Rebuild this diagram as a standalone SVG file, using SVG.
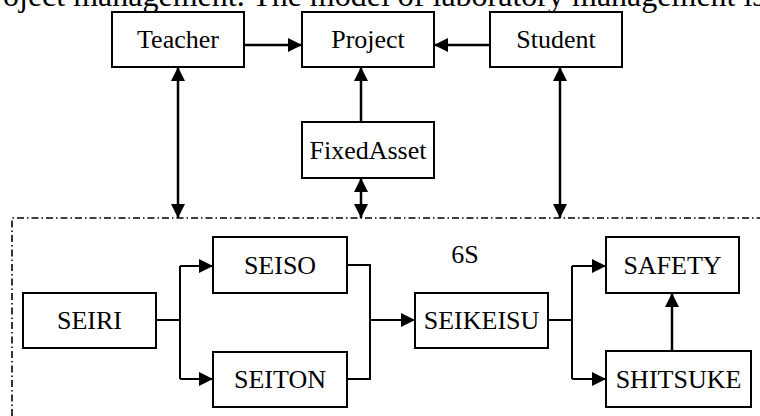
<svg xmlns="http://www.w3.org/2000/svg" width="760" height="416" viewBox="0 0 760 416">
<style>
.box{fill:#fff;stroke:#000;stroke-width:2}
.lbl{font-family:"Liberation Serif","Times New Roman",serif;font-size:26px;fill:#000;text-anchor:middle}
.big{stroke:#000;stroke-width:2.5;fill:none}
.thin{stroke:#000;stroke-width:2;fill:none}
.frame{stroke:#000;stroke-width:1.6;fill:none;stroke-dasharray:7 3 1.5 3}
</style>
<defs>
<marker id="ah" viewBox="0 0 14 14" refX="14" refY="7" markerWidth="14" markerHeight="14" markerUnits="userSpaceOnUse" orient="auto-start-reverse">
<path d="M0,0 L14,7 L0,14 z" fill="#000"/>
</marker>
</defs>
<rect width="760" height="416" fill="#fff"/>
<text x="3" y="6" style="font-family:'Liberation Serif','Times New Roman',serif;font-size:32px;fill:#000">oject management. The model of laboratory management is</text>
<path class="frame" d="M12,416 V218 H760"/>
<g id="connectors">
<path class="big" d="M244,45 H302" marker-end="url(#ah)"/>
<path class="big" d="M490,45 H434" marker-end="url(#ah)"/>
<path class="big" d="M361,122 V67" marker-end="url(#ah)"/>
<path class="big" d="M178,67 V218" marker-start="url(#ah)" marker-end="url(#ah)"/>
<path class="big" d="M560,67 V218" marker-start="url(#ah)" marker-end="url(#ah)"/>
<path class="big" d="M361,178 V218" marker-start="url(#ah)" marker-end="url(#ah)"/>
<path class="thin" d="M156,320 H180 M180,266 V379"/>
<path class="thin" d="M180,266 H213" marker-end="url(#ah)"/>
<path class="thin" d="M180,379 H213" marker-end="url(#ah)"/>
<path class="thin" d="M347,265 H370 V379 H347"/>
<path class="thin" d="M370,320 H415" marker-end="url(#ah)"/>
<path class="thin" d="M548,320 H572 M572,266 V379"/>
<path class="thin" d="M572,266 H606" marker-end="url(#ah)"/>
<path class="thin" d="M572,379 H606" marker-end="url(#ah)"/>
<path class="big" d="M672,351 V293" marker-end="url(#ah)"/>
</g>
<g id="teacher"><rect class="box" x="112" y="12" width="132" height="55"/><text class="lbl" x="178" y="48">Teacher</text></g>
<g id="project"><rect class="box" x="302" y="12" width="132" height="55"/><text class="lbl" x="368" y="48">Project</text></g>
<g id="student"><rect class="box" x="490" y="12" width="132" height="55"/><text class="lbl" x="556" y="48">Student</text></g>
<g id="fixedasset"><rect class="box" x="302" y="122" width="132" height="56"/><text class="lbl" x="368" y="159">FixedAsset</text></g>
<g id="seiri"><rect class="box" x="23" y="293" width="133" height="55"/><text class="lbl" x="89.5" y="329">SEIRI</text></g>
<g id="seiso"><rect class="box" x="213" y="237" width="134" height="56"/><text class="lbl" x="280" y="274">SEISO</text></g>
<g id="seiton"><rect class="box" x="213" y="352" width="134" height="55"/><text class="lbl" x="280" y="388">SEITON</text></g>
<g id="seikeisu"><rect class="box" x="415" y="293" width="133" height="55"/><text class="lbl" x="481.5" y="329">SEIKEISU</text></g>
<g id="safety"><rect class="box" x="606" y="237" width="133" height="56"/><text class="lbl" x="672.5" y="274">SAFETY</text></g>
<g id="shitsuke"><rect class="box" x="606" y="351" width="145" height="56"/><text class="lbl" x="678.5" y="388">SHITSUKE</text></g>
<g id="label-6s"><text class="lbl" x="465" y="263">6S</text></g>
</svg>
